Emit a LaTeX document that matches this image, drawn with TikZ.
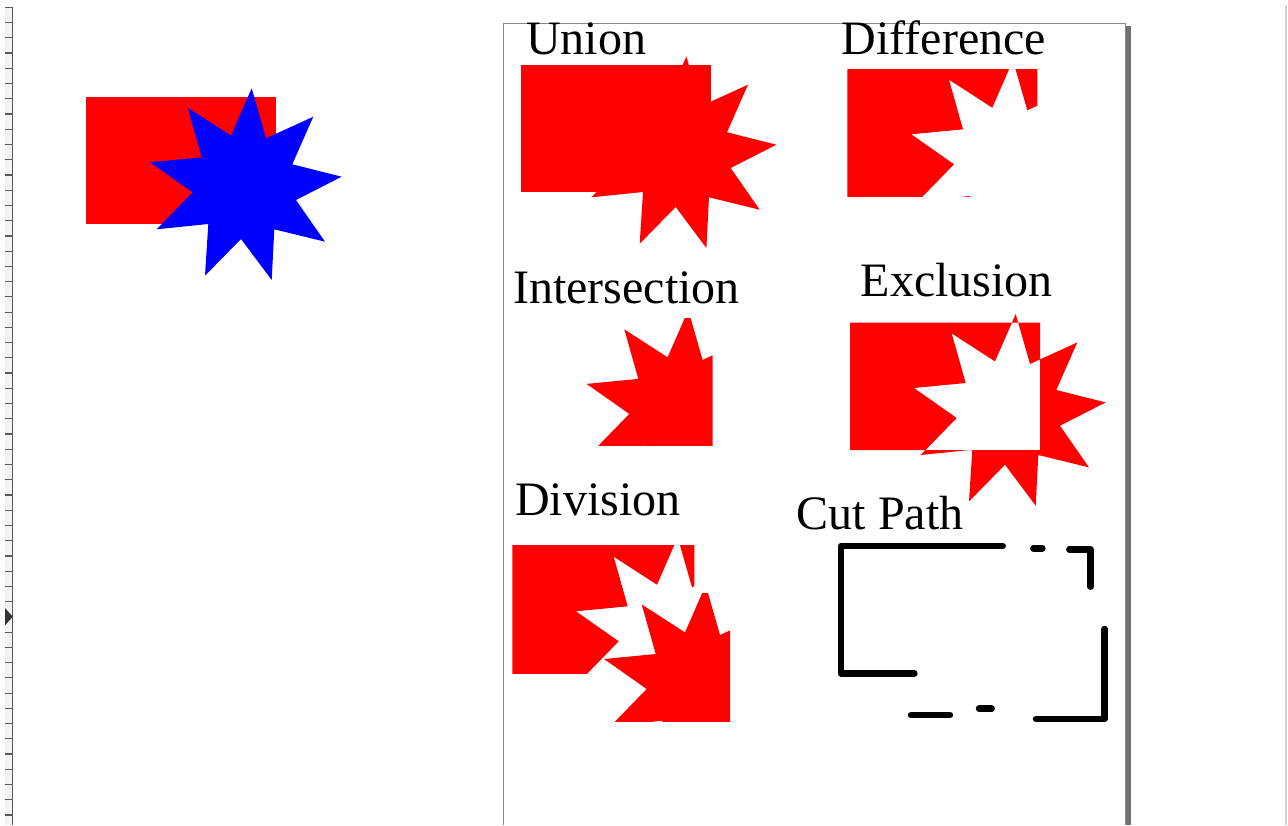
\documentclass[tikz,border=0pt]{standalone}
\usepackage{fontspec}
\setmainfont{Liberation Serif}
\definecolor{rulerbg}{HTML}{F4F3F1}
\definecolor{rulerink}{HTML}{555A5A}
\definecolor{pageedge}{HTML}{888888}
\definecolor{pageshadow}{HTML}{707070}
\definecolor{sideline}{HTML}{D4D4D4}
% star and rectangle outlines shared by every boolean example
\newcommand\starpts{(251.7,88.3) -- (266,138.3) -- (313.3,116.7) -- (292.3,164.3) -- (341.7,176.7) -- (296,200) -- (325,241.7) -- (274.3,229.3) -- (271.7,280) -- (241,239) -- (205,275.7) -- (208.3,224) -- (156.7,229.3) -- (192.7,192.3) -- (150,162.3) -- (201.7,157.3) -- (187.7,107.7) -- (231,135.7) -- cycle}
\newcommand\rectpts{(86,97) rectangle (276,224.3)}
\newcommand\narrowrectpts{(86.3,96.7) rectangle (268.3,224.3)}
% a frame well outside the rectangle, so that only the clip edge shows
\newcommand\widerectpts{(60,60) rectangle (380,300)}
\begin{document}
\begin{tikzpicture}[x=1pt,y=-1pt,
  lbl/.style={anchor=base west, inner sep=0pt, outer sep=0pt, font=\fontsize{48}{48}\selectfont, text=black},
  cutline/.style={line width=6.5pt, line cap=round, line join=round, draw=black},
  rulertick/.style={draw=rulerink, line width=1.2pt}]
\useasboundingbox (0,0) rectangle (1288,825);
\fill[white] (0,0) rectangle (1288,825);

% vertical ruler on the left
\fill[rulerbg] (5,7) rectangle (12.3,825);
\foreach \k in {0,...,53}{
  \draw[rulertick] (5,{7.3+15.24*\k}) -- (12.3,{7.3+15.24*\k});
}
\draw[rulerink, line width=1.5pt] (12.3,7) -- (12.3,825);
\fill[black!80] (5,608) -- (12.7,616.7) -- (5,625.4) -- cycle;

% right side divider
\draw[sideline, line width=2pt] (1286,5) -- (1286,825);

% page with its drop shadow
\fill[pageshadow] (1125.5,26) rectangle (1131,825);
\fill[white] (503.3,23.3) rectangle (1125.5,825);
\draw[pageedge, line width=1.5pt] (503.3,825) -- (503.3,23.3) -- (1125.5,23.3) -- (1125.5,825);

% source objects: rectangle and star
\fill[red] \rectpts;
\fill[blue] \starpts;

% union
\begin{scope}[shift={(434.7,-32)}]
  \fill[red] \rectpts;
  \fill[red] \starpts;
\end{scope}

% difference
\begin{scope}[shift={(761.3,-28)}]
  \clip \rectpts;
  \fill[red, even odd rule] \widerectpts \starpts;
\end{scope}

% intersection
\begin{scope}[shift={(436.6,221.6)}]
  \clip \rectpts;
  \fill[red] \starpts;
\end{scope}

% exclusion
\begin{scope}[shift={(764,225.7)}]
  \fill[red, even odd rule] \rectpts \starpts;
\end{scope}

% division: outer piece and the separated inner piece
\begin{scope}[shift={(426,449)}]
  \clip \narrowrectpts;
  \fill[red, even odd rule] \widerectpts \starpts;
\end{scope}
\begin{scope}[shift={(454,496.7)}]
  \clip \rectpts;
  \fill[red] \starpts;
\end{scope}

% cut path pieces
\draw[cutline] (1002.7,545.8) -- (840.8,545.8) -- (840.8,673.3) -- (914.4,673.3);
\draw[cutline] (1033.3,548.3) -- (1042.3,548.3);
\draw[cutline] (1069.3,549.3) -- (1090.5,549.3) -- (1090.5,586.7);
\draw[cutline] (1104.5,629) -- (1104.5,719) -- (1036,719);
\draw[cutline] (979,708.7) -- (991.7,708.7);
\draw[cutline] (911,715) -- (950,715);

% labels
\node[lbl] (lunion) at (526,54.3) {Union};
\node[lbl] (ldiff) at (841.7,54.3) {Difference};
\node[lbl] (linter) at (513.3,303.3) {Intersection};
\node[lbl] (lexcl) at (860.7,296) {Exclusion};
\node[lbl] (ldiv) at (515,515) {Division};
\node[lbl] (lcut) at (796.7,529.3) {Cut Path};
\end{tikzpicture}
\end{document}
